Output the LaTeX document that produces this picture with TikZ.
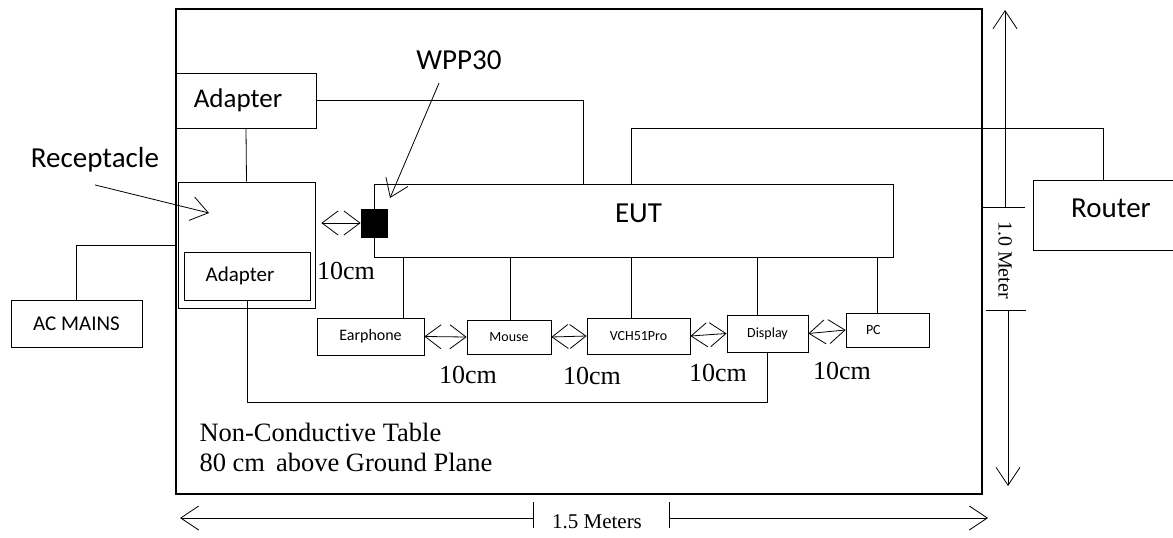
\documentclass[tikz,border=0pt]{standalone}
\usepackage{fontspec}
\setmainfont{Liberation Serif}
\setsansfont{Carlito}
\usetikzlibrary{arrows.meta}

\begin{document}
\begin{tikzpicture}[x=1pt,y=-1pt,
  box/.style={draw,line width=0.8pt,inner sep=0pt},
  lbig/.style={font=\sffamily\fontsize{29}{32}\selectfont},
  lmid/.style={font=\sffamily\fontsize{21}{24}\selectfont},
  lsmall/.style={font=\sffamily\fontsize{14}{16}\selectfont},
  lserif/.style={font=\fontsize{26}{28}\selectfont},
  lnote/.style={font=\fontsize{26.5}{30}\selectfont},
  ldim/.style={font=\fontsize{21}{24}\selectfont},
  wire/.style={line width=0.8pt},
  gap/.style={line width=0.8pt,{Straight Barb[length=16pt,width=24pt]}-{Straight Barb[length=16pt,width=24pt]}},
  ptr/.style={line width=0.8pt,-{Straight Barb[length=17pt,width=24pt]}},
  dimline/.style={line width=0.8pt,-{Straight Barb[length=18pt,width=24pt]}}]

\useasboundingbox (0,0) rectangle (1173,538);

% table
\node[box,line width=2.6pt,minimum width=806pt,minimum height=485pt] (table) at (579,251.5) {};
\node[lnote,anchor=base west] (tline1) at (196,441) {Non-Conductive Table};
\node[lnote,anchor=base west] (tline2) at (196,471) {80 cm\, above Ground Plane};

% adapters and receptacle
\node[box,minimum width=140pt,minimum height=55pt,
  label={[font=\sffamily\fontsize{27}{30}\selectfont,xshift=-8pt]center:Adapter}] (adtop) at (246,100.5) {};
\node[box,minimum width=137pt,minimum height=126pt] (recep) at (246.5,245) {};
\node[box,minimum width=126pt,minimum height=48pt,
  label={[lmid,xshift=-7pt]center:Adapter}] (adin) at (247,276) {};
\node[box,lmid,minimum width=131pt,minimum height=47pt] (mains) at (76.5,323.5) {AC MAINS};

% EUT and router
\node[box,minimum width=519pt,minimum height=73pt,
  label={[lbig,xshift=5pt,yshift=7pt]center:EUT}] (eut) at (633.5,220.5) {};
\node[box,fill=black,minimum width=26pt,minimum height=28pt] (wpp) at (374,223) {};
\node[box,minimum width=140pt,minimum height=70pt,
  label={[lbig,xshift=8pt,yshift=7pt]center:Router}] (router) at (1103,215) {};

% peripherals
\node[box,font=\sffamily\fontsize{16}{18}\selectfont,minimum width=107pt,minimum height=37pt] (earph) at (370.5,336.5) {Earphone};
\node[box,lsmall,minimum width=84pt,minimum height=34pt] (mouse) at (509,337) {Mouse};
\node[box,lsmall,minimum width=103pt,minimum height=36pt] (vch) at (638.5,336) {VCH51Pro};
\node[box,lsmall,minimum width=81pt,minimum height=37pt] (disp) at (767.5,333.5) {Display};
\node[box,lsmall,minimum width=83pt,minimum height=34pt] (pc) at (887.5,330) {\makebox[43pt][l]{PC}};

% wiring
\path (eut.north west) ++(210,0) coordinate (eutpwr) ++(48,0) coordinate (eutlan);
\draw[wire] (adtop.east) -| (eutpwr);
\draw[wire] (eutlan) -- ++(0,-55) -| (router.north);
\draw[wire] (adtop.south) -- (recep.north);
\coordinate (mainsin) at (176,245);
\draw[wire] (mains.north) |- (mainsin);
\draw[wire] (adin.south) -- ++(0,102) -| (disp.south);
\foreach \dev/\dx in {earph/403,mouse/510,vch/631,disp/757,pc/877}
  \draw[wire] (eut.south -| \dx,0) -- (\dev.north -| \dx,0);

% 10cm spacings
\draw[gap,shorten <=6pt] (recep.east |- wpp.west) -- (wpp.west);
\draw[gap] (earph.east) -- (mouse.west);
\draw[gap] (mouse.east) -- (vch.west);
\draw[gap] (vch.east) -- (disp.west);
\draw[gap] (disp.east) -- (pc.west);
\foreach \lx/\ly [count=\k] in {346/271,468/375,592/375.5,718/373,842/371}
  \node[lserif] (gap\k) at (\lx,\ly) {10cm};

% callouts
\node[lbig] (recepl) at (95,160) {Receptacle};
\coordinate (recpt) at (209,213);
\draw[ptr] ([yshift=-9pt]recepl.south) -- (recpt);
\node[lbig] (wppl) at (459,60) {WPP30};
\coordinate (wppc) at (390,198);
\draw[ptr] ([xshift=-20pt,yshift=-10pt]wppl.south) -- (wppc);

% dimensions
\node[ldim,font=\fontsize{20}{22}\selectfont,rotate=-90] (vlab) at (1005,260) {1.0 Meter};
\coordinate (vtick1) at (1005,207);
\coordinate (vtick2) at (1008,310);
\draw[wire] (table.east |- vtick1) -- ++(42,0);
\draw[wire] (986,310) -- (1026,310);
\draw[dimline] (vtick1) -- (1005,10);
\draw[dimline] (vtick2) -- (1008,486);

\node[ldim] (hlab) at (597,522) {1.5 Meters};
\coordinate (htick1) at (533,518);
\coordinate (htick2) at (669,518);
\draw[wire] (533,502) -- (533,528);
\draw[wire] (669,502) -- (669,528);
\draw[dimline] (htick1) -- (180,518);
\draw[dimline] (htick2) -- (988,518);

\end{tikzpicture}
\end{document}
